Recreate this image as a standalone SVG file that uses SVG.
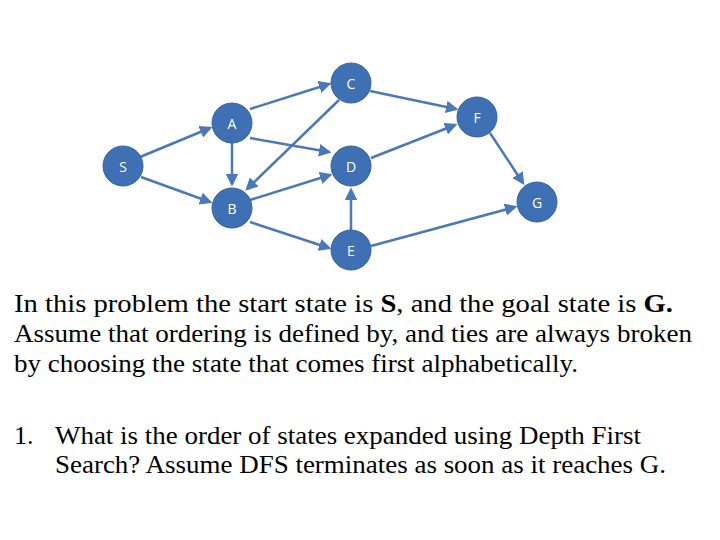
<svg xmlns="http://www.w3.org/2000/svg" width="720" height="540" viewBox="0 0 720 540">
<style>
.n{fill:#3f70b4;stroke:#3465a4;stroke-width:1}
.l{fill:#fff;font-family:"Open Sans","DejaVu Sans",sans-serif;font-size:14px;text-anchor:middle;dominant-baseline:central}
.e{stroke:#4a78b8;stroke-width:2.5;fill:none;marker-end:url(#ah)}
.t{font-family:"Liberation Serif",serif;font-size:26px;fill:#000}
</style>
<defs><marker id="ah" markerWidth="5" markerHeight="5" refX="4" refY="2.5" orient="auto"><path d="M0,0L5,2.5L0,5z" fill="#4a78b8"/></marker></defs>
<rect width="720" height="540" fill="#fff"/>
<g id="edges">
<line class="e" x1="140" y1="157" x2="210" y2="128"/>
<line class="e" x1="141" y1="177" x2="210" y2="202"/>
<line class="e" x1="250" y1="109" x2="329" y2="84"/>
<line class="e" x1="250" y1="138" x2="329" y2="152"/>
<line class="e" x1="232" y1="143" x2="232" y2="184"/>
<line class="e" x1="339" y1="100" x2="247" y2="189"/>
<line class="e" x1="370" y1="91" x2="456" y2="109"/>
<line class="e" x1="250" y1="200" x2="330" y2="175"/>
<line class="e" x1="250" y1="222" x2="329" y2="248"/>
<line class="e" x1="351" y1="230" x2="351" y2="190"/>
<line class="e" x1="371" y1="158" x2="455" y2="125"/>
<line class="e" x1="490" y1="133" x2="523" y2="183"/>
<line class="e" x1="371" y1="246" x2="515" y2="207"/>
</g>
<g id="S"><circle class="n" cx="123" cy="166" r="20"/><text class="l" x="123" y="166">S</text></g>
<g id="A"><circle class="n" cx="232" cy="123" r="20"/><text class="l" x="232" y="123">A</text></g>
<g id="B"><circle class="n" cx="232" cy="208" r="20"/><text class="l" x="232" y="208">B</text></g>
<g id="C"><circle class="n" cx="351" cy="83" r="20"/><text class="l" x="351" y="83">C</text></g>
<g id="D"><circle class="n" cx="351" cy="166" r="20"/><text class="l" x="351" y="166">D</text></g>
<g id="E"><circle class="n" cx="351" cy="250" r="20"/><text class="l" x="351" y="250">E</text></g>
<g id="F"><circle class="n" cx="477" cy="117" r="20"/><text class="l" x="477" y="117">F</text></g>
<g id="G"><circle class="n" cx="537" cy="202" r="20"/><text class="l" x="537" y="202">G</text></g>
<g id="text">
<text class="t" x="14" y="312" textLength="659" lengthAdjust="spacingAndGlyphs">In this problem the start state is <tspan font-weight="bold">S</tspan>, and the goal state is <tspan font-weight="bold">G.</tspan></text>
<text class="t" x="14" y="342" textLength="678" lengthAdjust="spacingAndGlyphs">Assume that ordering is defined by, and ties are always broken</text>
<text class="t" x="14" y="372" textLength="564" lengthAdjust="spacingAndGlyphs">by choosing the state that comes first alphabetically.</text>
<text class="t" x="14" y="444">1.</text>
<text class="t" x="55" y="444" textLength="586" lengthAdjust="spacingAndGlyphs">What is the order of states expanded using Depth First</text>
<text class="t" x="55" y="473" textLength="611" lengthAdjust="spacingAndGlyphs">Search? Assume DFS terminates as soon as it reaches G.</text>
</g>
</svg>
